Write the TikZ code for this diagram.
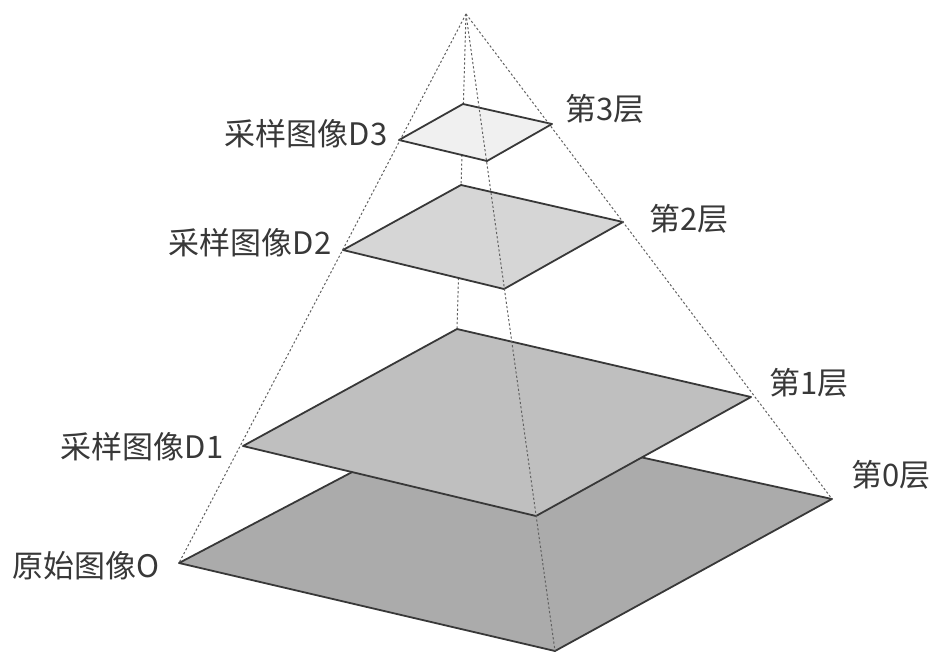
\documentclass[tikz,border=0pt]{standalone}
\usepackage{fontspec}
\setmainfont{Noto Sans CJK SC}[Scale=1]
\begin{document}
\begin{tikzpicture}[x=1pt,y=-1pt,
  layer/.style={draw=black!78,line width=1.8pt,line join=round},
  guide/.style={draw=black!62,line width=1pt,dash pattern=on 2.2pt off 2.2pt},
  lab/.style={text=black!78,inner sep=0pt,font=\fontsize{31}{33}\selectfont},
]
\useasboundingbox (0,0) rectangle (944,663);
\fill[white] (0,0) rectangle (944,663);
\coordinate (apex) at (466,14);
\coordinate (t0) at (457,417); \coordinate (r0) at (832,499); \coordinate (b0) at (555,651); \coordinate (l0) at (179,563);
\coordinate (t1) at (457,329); \coordinate (r1) at (751,397); \coordinate (b1) at (536,516); \coordinate (l1) at (243,446);
\coordinate (t2) at (461,185); \coordinate (r2) at (623,222); \coordinate (b2) at (504,289); \coordinate (l2) at (343,250);
\coordinate (t3) at (463,104); \coordinate (r3) at (552,124); \coordinate (b3) at (487,161); \coordinate (l3) at (399,140);
% back guide runs behind the layers
\draw[guide] (apex) -- (t1);
% layers
\draw[layer,fill=black!33] (t0) -- (r0) -- (b0) -- (l0) -- cycle;
\draw[layer,fill=black!25] (t1) -- (r1) -- (b1) -- (l1) -- cycle;
\draw[layer,fill=black!16] (t2) -- (r2) -- (b2) -- (l2) -- cycle;
\draw[layer,fill=black!6] (t3) -- (r3) -- (b3) -- (l3) -- cycle;
% outer and front guides
\draw[guide] (apex) -- (l0);
\draw[guide] (apex) -- (r0);
\draw[guide] (apex) -- (b0);
% labels
\node[lab,anchor=east] (d3) at (387.5,134) {采样图像D3};
\node[lab,anchor=east] (d2) at (331.5,243) {采样图像D2};
\node[lab,anchor=east] (d1) at (223.5,447) {采样图像D1};
\node[lab,anchor=east] (o) at (160,566) {原始图像O};
\node[lab,anchor=west] (n3) at (565,109) {第3层};
\node[lab,anchor=west] (n2) at (649,219) {第2层};
\node[lab,anchor=west] (n1) at (769,383) {第1层};
\node[lab,anchor=west] (n0) at (851,475) {第0层};
\end{tikzpicture}
\end{document}
